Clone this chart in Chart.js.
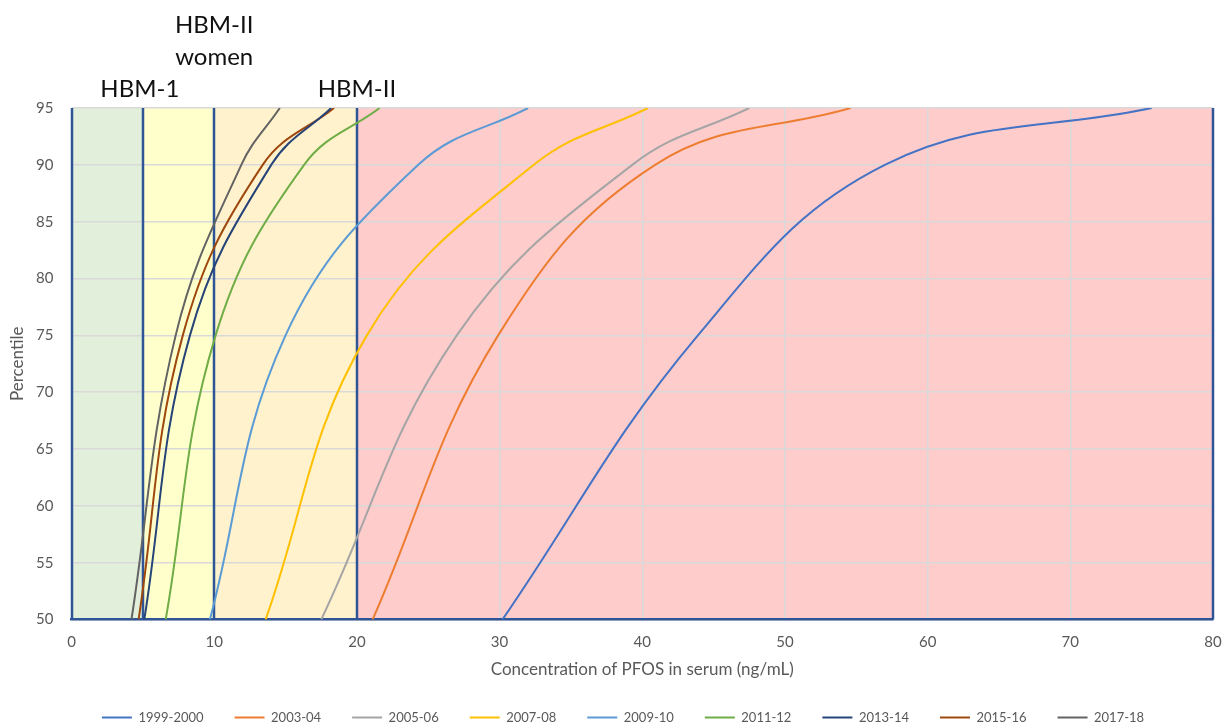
<!DOCTYPE html>
<html>
<head>
<meta charset="utf-8">
<script src="https://cdn.jsdelivr.net/npm/chart.js@4.4.1/dist/chart.umd.min.js"></script>
<style>
  html, body { margin: 0; padding: 0; background: #fff; }
  #wrap { width: 1230px; height: 724px; }
</style>
</head>
<body>
<div id="wrap"><canvas id="pfosChart" width="1230" height="724"></canvas></div>
<script>
// percentiles plotted on the y axis
const percentiles = [50, 75, 90, 95];

// PFOS serum concentration (ng/mL) at each percentile, by survey cycle
const cycles = ['1999-2000', '2003-04', '2005-06', '2007-08', '2009-10', '2011-12', '2013-14', '2015-16', '2017-18'];
const conc1999 = [30.2, 43.9, 57.0, 75.7];
const conc2003 = [21.1, 29.9, 40.9, 54.6];
const conc2005 = [17.5, 27.0, 39.3, 47.5];
const conc2007 = [13.6, 20.7, 32.4, 40.4];
const conc2009 = [9.7, 15.0, 24.3, 32.0];
const conc2011 = [6.6, 10.1, 16.3, 21.6];
const conc2013 = [5.1, 8.3, 14.0, 18.2];
const conc2015 = [4.7, 7.8, 13.4, 18.4];
const conc2017 = [4.2, 7.3, 11.9, 14.6];
const seriesValues = [conc1999, conc2003, conc2005, conc2007, conc2009, conc2011, conc2013, conc2015, conc2017];
const seriesColors = ['#4472C4', '#ED7D31', '#A5A5A5', '#FFC000', '#5B9BD5', '#70AD47', '#264478', '#9E480E', '#636363'];

// guidance value zones (ng/mL)
const zoneEdges = [0, 5, 10, 20, 80];
const zoneColors = ['#E2EFDA', '#FFFFCC', '#FFF2CC', '#FFCCCC'];
const markerLines = [0, 5, 10, 20, 80];
const zoneLabels = [
  { x: 5, lines: ['HBM-1'], bottom: 89 },
  { x: 10, lines: ['HBM-II', 'women'], bottom: 57 },
  { x: 20, lines: ['HBM-II'], bottom: 89 }
];

const FONT = 'Lato, "Open Sans", sans-serif';

const zonesPlugin = {
  id: 'zones',
  beforeDraw(chart) {
    const { ctx, chartArea: a, scales: { x } } = chart;
    ctx.save();
    for (let i = 0; i < zoneColors.length; i++) {
      const x0 = x.getPixelForValue(zoneEdges[i]);
      const x1 = x.getPixelForValue(zoneEdges[i + 1]);
      ctx.fillStyle = zoneColors[i];
      ctx.fillRect(x0, a.top, x1 - x0, a.bottom - a.top);
    }
    ctx.restore();
  },
  beforeDatasetsDraw(chart) {
    const { ctx, chartArea: a, scales: { x } } = chart;
    ctx.save();
    ctx.strokeStyle = '#2F5597';
    ctx.lineWidth = 2.5;
    markerLines.forEach(v => {
      const px = Math.round(x.getPixelForValue(v));
      ctx.beginPath();
      ctx.moveTo(px, a.top);
      ctx.lineTo(px, a.bottom);
      ctx.stroke();
    });
    ctx.restore();
  },
  afterDraw(chart) {
    const { ctx, chartArea: a, scales: { x } } = chart;
    ctx.save();
    ctx.fillStyle = '#111';
    ctx.font = '24px ' + FONT;
    ctx.textAlign = 'center';
    ctx.textBaseline = 'middle';
    zoneLabels.forEach(l => {
      const px = x.getPixelForValue(l.x) - (l.x === 5 ? 3 : 0);
      const n = l.lines.length;
      l.lines.forEach((t, i) => {
        ctx.fillText(t, px, l.bottom - (n - 1 - i) * 32);
      });
    });
    // y axis title
    ctx.fillStyle = '#595959';
    ctx.font = '17px ' + FONT;
    ctx.translate(18, (a.top + a.bottom) / 2);
    ctx.rotate(-Math.PI / 2);
    ctx.fillText('Percentile', 0, 0);
    ctx.restore();
  }
};

const datasets = cycles.map((name, i) => ({
  label: name,
  data: seriesValues[i].map((v, j) => ({ x: v, y: percentiles[j] })),
  borderColor: seriesColors[i],
  backgroundColor: seriesColors[i],
  borderWidth: 2,
  pointRadius: 0,
  tension: 0.4,
  fill: false
}));

new Chart(document.getElementById('pfosChart').getContext('2d'), {
  type: 'line',
  data: { datasets },
  plugins: [zonesPlugin],
  options: {
    responsive: false,
    animation: false,
    layout: { padding: { top: 108, right: 17, left: 33, bottom: -10 } },
    plugins: {
      legend: {
        position: 'bottom',
        labels: {
          usePointStyle: true,
          pointStyle: 'line',
          pointStyleWidth: 30,
          boxHeight: 2,
          color: '#595959',
          font: { family: FONT, size: 13 },
          padding: 31
        }
      },
      tooltip: { enabled: false }
    },
    scales: {
      x: {
        type: 'linear',
        min: 0,
        max: 80,
        afterFit: (scale) => { scale.paddingRight = 0; scale.paddingLeft = 0; },
        ticks: { stepSize: 10, color: '#595959', font: { family: FONT, size: 15 }, padding: 14 },
        grid: { color: '#D9D9D9', lineWidth: 1.5, drawTicks: false },
        border: { color: '#2F5597', width: 2.5 },
        title: { display: true, text: 'Concentration of PFOS in serum (ng/mL)', color: '#595959', font: { family: FONT, size: 17 }, padding: { top: -6, bottom: 0 } }
      },
      y: {
        type: 'linear',
        min: 50,
        max: 95,
        afterFit: (scale) => { scale.width = 38.5; },
        ticks: { stepSize: 5, color: '#595959', font: { family: FONT, size: 15 }, padding: 18 },
        grid: { color: '#D9D9D9', lineWidth: 1.5, drawTicks: false },
        border: { display: false },
        title: { display: false }
      }
    }
  }
});
</script>
</body>
</html>
